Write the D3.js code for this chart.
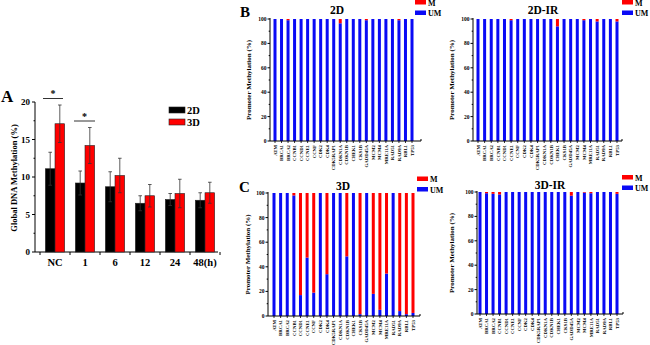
<!DOCTYPE html>
<html>
<head>
<meta charset="utf-8">
<script src="https://cdn.jsdelivr.net/npm/d3@7"></script>
<style>
  body { margin: 0; background: #fff; }
  svg { display: block; font-family: "Liberation Serif", "Times New Roman", serif; font-weight: bold; }
</style>
</head>
<body>
<div class="canva"></div>
<script>
// panel A data
const timepoints = ["NC", "1", "6", "12", "24", "48(h)"];
const global2D = [11.1, 9.2, 8.7, 6.5, 7.0, 6.9];
const global2DErr = [2.2, 1.6, 2.0, 1.0, 0.8, 1.0];
const global3D = [17.1, 14.2, 10.2, 7.5, 7.8, 7.9];
const global3DErr = [2.5, 2.4, 2.3, 1.5, 1.9, 1.4];
const yTicksA = [0, 5, 10, 15, 20];

// panels B-D data (methylated %, unmethylated = 100 - M)
const genes = ["ATM", "BRCA1", "BRCA2", "CCNB1", "CCND1", "CCNE1", "CCNF", "CDK2", "CDK4",
  "CDK5RAP1", "CDKN1A", "CDKN1B", "CHEK1", "CKS1B", "GADD45A", "MCM2", "MCM4", "MRE11A",
  "RAD51", "RAD9A", "RBL1", "TP53"];
const m2D   = [0, 0, 1, 0, 0, 0, 0, 0, 0, 0, 3.5, 0, 0, 0, 1, 0, 0, 0, 0, 1, 0, 0];
const m2DIR = [0, 0, 0, 0, 0, 1, 0, 0, 0, 0, 0, 0, 6, 0, 0, 0, 1, 0, 2, 0, 0, 2];
const m3D   = [0, 0, 0, 2, 83, 52.5, 81, 0, 66, 0, 0, 51.5, 0, 98.5, 0, 82, 95, 65.5, 0, 96, 98.5, 97.5];
const m3DIR = [0, 1, 1.5, 2, 0, 0, 0, 0, 0, 0, 0, 0, 0, 0, 3, 0, 0.5, 1, 0, 0, 0, 1.5];
const yTicksB = [0, 20, 40, 60, 80, 100];

const RED = "#ff0000", BLUE = "#0a0af5";

const svg = d3.select(".canva").append("svg")
  .attr("width", 650).attr("height", 345);

// ---------- panel A ----------
const x = d3.scaleBand().domain(timepoints).range([40, 220]).paddingInner(0.36).paddingOuter(0.18);
const y = d3.scaleLinear().domain([0, 20]).range([252, 102]);
const bw = x.bandwidth() / 2;

const gA = svg.append("g");
gA.append("line").attr("x1", 35).attr("x2", 35).attr("y1", y(20)).attr("y2", y(0)).attr("stroke", "#000");
gA.append("line").attr("x1", 35).attr("x2", 218).attr("y1", y(0)).attr("y2", y(0)).attr("stroke", "#000");
gA.selectAll(".yt").data(yTicksA).enter().append("line")
  .attr("x1", 32).attr("x2", 35).attr("y1", d => y(d)).attr("y2", d => y(d)).attr("stroke", "#000");
gA.selectAll(".ym").data(d3.range(2.5, 20, 5)).enter().append("line")
  .attr("x1", 33.5).attr("x2", 35).attr("y1", d => y(d)).attr("y2", d => y(d)).attr("stroke", "#000");
gA.selectAll(".yl").data(yTicksA).enter().append("text")
  .attr("x", 30).attr("y", d => y(d) + 3).attr("text-anchor", "end")
  .attr("font-size", 9).text(d => d);
gA.selectAll(".xt").data(d3.range(7)).enter().append("line")
  .attr("x1", d => 40 + d * 30).attr("x2", d => 40 + d * 30)
  .attr("y1", y(0)).attr("y2", y(0) + 3).attr("stroke", "#000");
gA.selectAll(".xl").data(timepoints).enter().append("text")
  .attr("x", d => x(d) + x.bandwidth() / 2).attr("y", 266).attr("text-anchor", "middle")
  .attr("font-size", 10.5).text(d => d);

const series = [
  {vals: global2D, err: global2DErr, fill: "#000", off: 0},
  {vals: global3D, err: global3DErr, fill: RED, off: bw}
];
series.forEach(s => {
  const g = gA.append("g");
  g.selectAll("rect").data(timepoints).enter().append("rect")
    .attr("x", (d) => x(d) + s.off).attr("width", bw)
    .attr("y", (d, i) => y(s.vals[i])).attr("height", (d, i) => y(0) - y(s.vals[i]))
    .attr("fill", s.fill).attr("stroke", "#222").attr("stroke-width", 0.6);
  g.selectAll(".eb").data(timepoints).enter().append("line")
    .attr("x1", d => x(d) + s.off + bw / 2).attr("x2", d => x(d) + s.off + bw / 2)
    .attr("y1", (d, i) => y(s.vals[i] - s.err[i])).attr("y2", (d, i) => y(s.vals[i] + s.err[i]))
    .attr("stroke", "#333").attr("stroke-width", 0.8);
  [1, -1].forEach(sign => {
    g.append("g").selectAll("line").data(timepoints).enter().append("line")
      .attr("x1", d => x(d) + s.off + bw / 2 - 1.8).attr("x2", d => x(d) + s.off + bw / 2 + 1.8)
      .attr("y1", (d, i) => y(s.vals[i] + sign * s.err[i])).attr("y2", (d, i) => y(s.vals[i] + sign * s.err[i]))
      .attr("stroke", "#333").attr("stroke-width", 0.8);
  });
});

// significance
[["NC", 98.5, 43, 63], ["1", 121, 74, 95]].forEach(([k, yy, a, b]) => {
  gA.append("line").attr("x1", a).attr("x2", b).attr("y1", yy).attr("y2", yy).attr("stroke", "#333");
  gA.append("text").attr("x", (a + b) / 2).attr("y", yy - 1.5).attr("text-anchor", "middle")
    .attr("font-size", 10).text("*");
});

// legend A
[["2D", "#000", 107], ["3D", RED, 119]].forEach(([t, c, yy]) => {
  gA.append("rect").attr("x", 169).attr("y", yy).attr("width", 16).attr("height", 6)
    .attr("fill", c).attr("stroke", "#222").attr("stroke-width", 0.6);
  gA.append("text").attr("x", 187).attr("y", yy + 6.5).attr("font-size", 10.5).text(t);
});

gA.append("text").attr("x", 1).attr("y", 102).attr("font-size", 17).text("A");
gA.append("text").attr("transform", "translate(17,178) rotate(-90)")
  .attr("text-anchor", "middle").attr("font-size", 8.5).text("Global DNA Methylation (%)");

// ---------- stacked panels ----------
function stackPanel(p) {
  const g = svg.append("g");
  const xs = d3.scalePoint().domain(genes).range([p.first, p.last]);
  const ys = d3.scaleLinear().domain([0, 100]).range([p.y0, p.y100]);
  const w = 3;
  g.selectAll(".um").data(genes).enter().append("rect")
    .attr("x", d => xs(d) - w / 2).attr("width", w)
    .attr("y", (d, i) => ys(100 - p.m[i])).attr("height", (d, i) => ys(0) - ys(100 - p.m[i]))
    .attr("fill", BLUE);
  g.selectAll(".m").data(genes).enter().append("rect")
    .attr("x", d => xs(d) - w / 2).attr("width", w)
    .attr("y", ys(100)).attr("height", (d, i) => ys(100 - p.m[i]) - ys(100))
    .attr("fill", RED);

  g.append("line").attr("x1", p.ax).attr("x2", p.ax).attr("y1", ys(100) - 1).attr("y2", ys(0)).attr("stroke", "#000");
  g.append("line").attr("x1", p.ax).attr("x2", p.end).attr("y1", ys(0)).attr("y2", ys(0)).attr("stroke", "#000");
  g.append("line").attr("x1", p.end).attr("x2", p.end).attr("y1", ys(0)).attr("y2", ys(0) - 2).attr("stroke", "#000");
  g.selectAll(".yt").data(yTicksB).enter().append("line")
    .attr("x1", p.ax - 2.5).attr("x2", p.ax).attr("y1", d => ys(d)).attr("y2", d => ys(d)).attr("stroke", "#000");
  g.selectAll(".ym").data(d3.range(10, 100, 20)).enter().append("line")
    .attr("x1", p.ax - 1.3).attr("x2", p.ax).attr("y1", d => ys(d)).attr("y2", d => ys(d)).attr("stroke", "#000");
  g.selectAll(".yl").data(yTicksB).enter().append("text")
    .attr("x", p.ax - 3.5).attr("y", d => ys(d) + 2).attr("text-anchor", "end")
    .attr("font-size", 5.5).text(d => d);
  g.selectAll(".xt").data(genes).enter().append("line")
    .attr("x1", d => xs(d)).attr("x2", d => xs(d)).attr("y1", ys(0)).attr("y2", ys(0) + 2)
    .attr("stroke", "#000").attr("stroke-width", 0.8);
  g.selectAll(".xl").data(genes).enter().append("text")
    .attr("transform", d => `translate(${xs(d) + 1.7},${ys(0) + 4}) rotate(-90)`)
    .attr("text-anchor", "end").attr("font-size", 4.8).text(d => d);

  g.append("text").attr("x", p.tx).attr("y", p.ty).attr("text-anchor", "middle")
    .attr("font-size", 11.5).text(p.title);
  g.append("text").attr("transform", `translate(${p.lx},${(ys(0) + ys(100)) / 2}) rotate(-90)`)
    .attr("text-anchor", "middle").attr("font-size", 7).text("Promoter Methylation (%)");

  [["M", RED, 0], ["UM", BLUE, 1]].forEach(([t, c, k]) => {
    g.append("rect").attr("x", p.legX).attr("y", p.legY + k * 10.5).attr("width", 11).attr("height", 4.5).attr("fill", c);
    g.append("text").attr("x", p.legX + 13).attr("y", p.legY + k * 10.5 + 5.5).attr("font-size", 8).text(t);
  });
  if (p.letter) {
    g.append("text").attr("x", p.letX).attr("y", p.letY).attr("font-size", 15).text(p.letter);
  }
}

stackPanel({m: m2D, ax: 270, first: 275, last: 412, end: 421, y0: 141, y100: 19,
  title: "2D", tx: 337, ty: 14, lx: 251, legX: 415, legY: 0, letter: "B", letX: 240, letY: 17});
stackPanel({m: m2DIR, ax: 473, first: 478, last: 617, end: 622, y0: 141, y100: 19,
  title: "2D-IR", tx: 543, ty: 14, lx: 454, legX: 622, legY: 0});
stackPanel({m: m3D, ax: 268, first: 274, last: 413, end: 420, y0: 316, y100: 193,
  title: "3D", tx: 343, ty: 190, lx: 250, legX: 417, legY: 176.5, letter: "C", letX: 239, letY: 192});
stackPanel({m: m3DIR, ax: 477, first: 480, last: 617, end: 623, y0: 314, y100: 192,
  title: "3D-IR", tx: 550, ty: 189, lx: 454, legX: 622, legY: 175});
</script>
</body>
</html>
